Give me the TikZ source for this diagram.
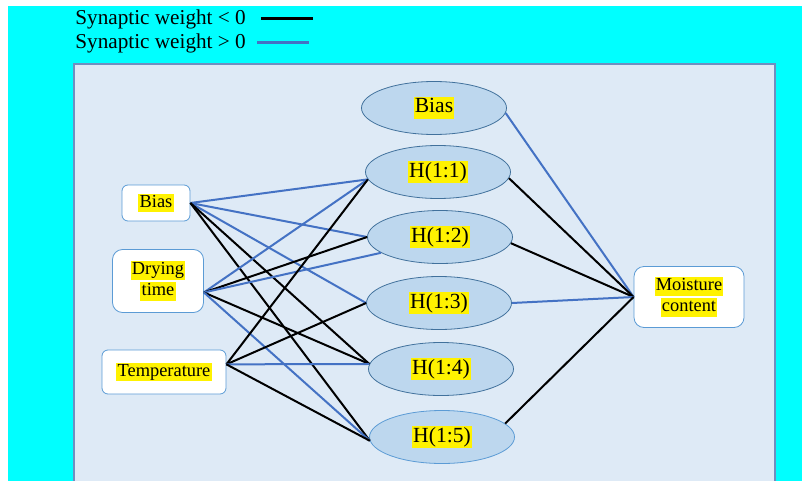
\documentclass[tikz,border=0pt]{standalone}
\usepackage{fontspec}
\setmainfont{Liberation Serif}
\usetikzlibrary{positioning}
\usetikzlibrary{shapes.geometric}
\definecolor{bgcyan}{HTML}{00FFFF}
\definecolor{panelfill}{HTML}{DEEAF6}
\definecolor{panelline}{HTML}{6F8FC0}
\definecolor{hidfill}{HTML}{BDD7EE}
\definecolor{hidline}{HTML}{41719C}
\definecolor{boxline}{HTML}{5B9BD5}
\definecolor{posline}{HTML}{4472C4}
\newcommand{\yel}[1]{{\setlength{\fboxsep}{0.6pt}\colorbox{yellow}{\vphantom{Hy}#1}}}

\begin{document}
\begin{tikzpicture}[x=0.5pt, y=-0.5pt,
                        hid/.style={draw=hidline, fill=hidfill, ellipse, inner sep=0pt,
                                    minimum width=72.5pt, minimum height=26.5pt,
                                    font=\fontsize{10.8}{13}\selectfont},
                        io/.style={draw=boxline, fill=white, rounded corners=3pt, inner sep=0pt,
                                   align=center, font=\fontsize{9.2}{10.5}\selectfont},
                        leg/.style={anchor=west, inner sep=0pt, font=\fontsize{10.6}{12.7}\selectfont},
                        negwt/.style={draw=black, line width=1pt},
                        poswt/.style={draw=posline, line width=1pt}]
            \useasboundingbox (0,0) rectangle (802,481);
            \fill[white] (0,0) rectangle (802,481);
            \fill[bgcyan] (8,6) rectangle (802,481);
            \filldraw[fill=panelfill, draw=panelline, line width=0.6pt]
                (74,492) -- (74,64) -- (775,64) -- (775,492);

            % legend
            \node[leg] (legneg) at (75,19) {Synaptic weight < 0};
            \node[leg] (legpos) at (75,43) {Synaptic weight > 0};
            \draw[negwt, line width=1.5pt] ([xshift=7.5pt]legneg.east) -- ++(52,0);
            \draw[poswt, line width=1.5pt] ([xshift=5.5pt]legpos.east) -- ++(52,0);

            % hidden layer
            \node[hid] (hb) at (434,108) {\yel{Bias}};
            \node[hid] (h1) at (438,172) {\yel{H(1:1)}};
            \node[hid] (h2) at (440,237) {\yel{H(1:2)}};
            \node[hid] (h3) at (439,303) {\yel{H(1:3)}};
            \node[hid] (h4) at (441,369) {\yel{H(1:4)}};
            \node[hid, draw=boxline] (h5) at (442,437) {\yel{H(1:5)}};

            % inputs and output
            \node[io, minimum width=34pt, minimum height=18pt] (bias) at (156,203) {\yel{Bias}};
            \node[io, minimum width=45.5pt, minimum height=31.5pt, rounded corners=5pt] (dry)
                at (158,281) {\yel{Drying}\\\yel{time}};
            \node[io, minimum width=62pt, minimum height=22pt] (temp) at (164,372) {\yel{Temperature}};
            \node[io, minimum width=55pt, minimum height=30.5pt, rounded corners=5pt] (mc)
                at (689,297) {\yel{Moisture}\\\yel{content}};

            \draw[poswt] (bias.east) -- (h1.186);
            \draw[poswt] (bias.east) -- (h2.west);
            \draw[poswt] (bias.east) -- (h3.west);
            \draw[negwt] (bias.east) -- (h4.176);
            \draw[negwt] (bias.east) -- (h5.183);

            \draw[poswt] (dry.346) -- (h1.186);
            \draw[negwt] (dry.346) -- (h2.west);
            \draw[poswt] (dry.346) -- (h2.195);
            \draw[negwt] (dry.346) -- (h4.176);
            \draw[poswt] (dry.346) -- (h5.183);

            \draw[negwt] (temp.7) -- (h1.186);
            \draw[negwt] (temp.7) -- (h3.west);
            \draw[poswt] (temp.7) -- (h4.176);
            \draw[negwt] (temp.7) -- (h5.183);

            \draw[poswt] (hb.356) -- (mc.west);
            \draw[negwt] (h1.355) -- (mc.west);
            \draw[negwt] (h2.355) -- (mc.west);
            \draw[poswt] (h3.east) -- (mc.west);
            \draw[negwt] (h5.12) -- (mc.west);
        \end{tikzpicture}
\end{document}
